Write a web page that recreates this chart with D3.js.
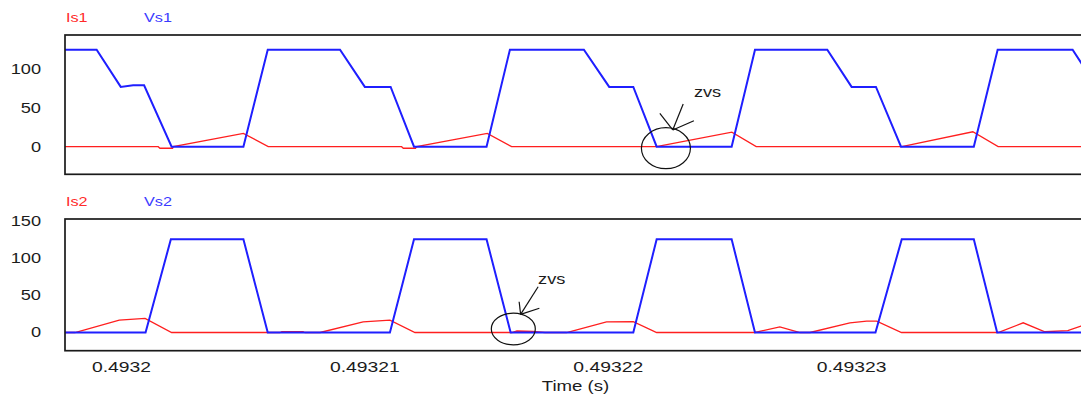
<!DOCTYPE html>
<html>
<head>
<meta charset="utf-8">
<script src="https://cdn.jsdelivr.net/npm/d3@7"></script>
<style>
  body { margin: 0; background: #fff; }
  svg { display: block; }
  text { font-family: "Liberation Sans", Arial, sans-serif; }
</style>
</head>
<body>
<svg id="canvas"></svg>
<script>
// time in seconds
let tVs1 = [0.4931977, 0.4931990, 0.49319999, 0.4932005, 0.49320095, 0.49320208, 0.49320503, 0.49320603,
  0.4932090, 0.49321002, 0.49321108, 0.49321204, 0.49321502, 0.49321598, 0.49321902, 0.49322006,
  0.49322105, 0.49322201, 0.49322509, 0.49322605, 0.49322902, 0.49323002, 0.49323102, 0.49323205,
  0.49323504, 0.49323602, 0.4932391, 0.4932398];
let vs1 = [125, 125, 77, 79, 79, 0, 0, 125, 125, 77, 77, 0, 0, 125, 125, 77, 77, 0, 0, 125, 125, 77, 77, 0, 0, 125, 125, 91];

let tIs1 = [0.4931977, 0.49320153, 0.4932016, 0.49320212, 0.49320215, 0.49320503, 0.49320605, 0.49321153,
  0.4932116, 0.4932121, 0.49321215, 0.49321505, 0.49321605, 0.493222, 0.4932251, 0.4932261,
  0.49323208, 0.493235, 0.49323604, 0.4932398];
let is1 = [0, 0, -2, -2, 0, 17.2, 0, 0, -2, -2, 0, 17.2, 0, 0, 18.8, 0, 0, 19.2, 0, 0];

let tVs2 = [0.4931977, 0.49320101, 0.49320205, 0.49320503, 0.49320603, 0.49321105, 0.49321204, 0.49321502,
  0.49321601, 0.49322105, 0.49322201, 0.49322509, 0.49322605, 0.493231, 0.49323208, 0.49323504,
  0.493236, 0.4932398];
let vs2 = [0, 0, 125, 125, 0, 0, 125, 125, 0, 0, 125, 125, 0, 0, 125, 125, 0, 0];

let tIs2 = [0.4931977, 0.49319811, 0.49319993, 0.49320099, 0.49320208, 0.49320653, 0.49320661, 0.49320748,
  0.49320756, 0.49320818, 0.49320995, 0.49321105, 0.49321208, 0.49321606, 0.49321627, 0.49321693,
  0.49321742, 0.49321831, 0.49321995, 0.49322105, 0.49322201, 0.49322605, 0.49322707, 0.4932279,
  0.49322831, 0.49322995, 0.49323064, 0.49323105, 0.49323207, 0.49323604, 0.49323707, 0.49323796,
  0.4932389, 0.49323944, 0.4932398];
let is2 = [0, 0, 16.6, 19, 0, 0, 1, 1, 0, 0, 14.3, 16.6, 0, 0, 2, 1.5, 0, 0, 14.3, 14.5, 0, 0, 7.6, 0,
  0, 13, 15.3, 15.3, 0, 0, 13, 1, 2.5, 8.5, 12];

let timeDomain = [0.4931977, 0.49323965];
let xTickValues = [0.4932, 0.49321, 0.49322, 0.49323];
let xTickLabels = ['0.4932', '0.49321', '0.49322', '0.49323'];
let yTicksTop = [0, 50, 100];
let yTicksBottom = [0, 50, 100, 150];
let legendTop = ['Is1', 'Vs1'];
let legendBottom = ['Is2', 'Vs2'];

// zvs markers: [time, value] for circle centre, arrow root, arrow tips, label
let zvsTop = { centre: [0.49322239, -2], root: [0.49322267, 21.5],
  tips: [[0.49322214, 43], [0.4932231, 55], [0.49322354, 33.5]], label: [0.49322354, 63.5] };
let zvsBottom = { centre: [0.49321612, 4.7], root: [0.49321642, 24.4],
  tips: [[0.49321714, 61.4], [0.49321636, 41.3], [0.49321719, 32.5]], label: [0.49321714, 64.4] };

let width = 1081;
let height = 398;
let left = 65;
let right = 1086;
let red = '#ff1f1f';
let blue = '#1f1fff';
let stretch = 1.3;

let svg = d3.select('#canvas').attr('width', width).attr('height', height);

let xScale = d3.scaleLinear().domain(timeDomain).range([left, right]);

let widen = (sel, k) => {
  sel.each(function () {
    let w = this.getComputedTextLength();
    d3.select(this).attr('textLength', w * k).attr('lengthAdjust', 'spacingAndGlyphs');
  });
};

let drawPanel = (p) => {
  let yScale = d3.scaleLinear().domain(p.domain).range([p.bottom, p.top]);
  let g = svg.append('g');

  g.append('clipPath').attr('id', p.id)
    .append('rect').attr('x', left).attr('y', p.top)
    .attr('width', right - left).attr('height', p.bottom - p.top);

  let plot = g.append('g').attr('clip-path', 'url(#' + p.id + ')');
  p.series.forEach((s) => {
    let pts = s.t.map((t, i) => [t, s.v[i]]);
    plot.append('path')
      .attr('d', d3.line().x((d) => xScale(d[0])).y((d) => yScale(d[1]))(pts))
      .attr('fill', 'none')
      .attr('stroke', s.color)
      .attr('stroke-width', s.w)
      .attr('stroke-linejoin', 'miter');
  });

  g.append('rect')
    .attr('x', left).attr('y', p.top)
    .attr('width', right - left).attr('height', p.bottom - p.top)
    .attr('fill', 'none').attr('stroke', '#1a1a1a').attr('stroke-width', 1.7);

  let yAxis = d3.axisLeft(yScale).tickValues(p.ticks).tickSize(0).tickPadding(24);
  let ya = g.append('g').attr('transform', 'translate(' + left + ',0)').call(yAxis);
  ya.select('.domain').remove();
  ya.selectAll('text').attr('font-size', 14).attr('fill', '#1c1c1c')
    .attr('font-family', '"Liberation Sans", Arial, sans-serif');
  widen(ya.selectAll('text'), stretch);

  // legend names above the panel
  g.selectAll('.legend')
    .data(p.legend)
    .enter()
    .append('text')
    .attr('x', (d, i) => left + 1 + i * 78)
    .attr('y', p.top - 13)
    .attr('font-size', 13.5)
    .attr('fill', (d, i) => i === 0 ? '#ff2a2a' : '#3a3aff')
    .text((d) => d);
  widen(g.selectAll('text:not(.tick text)').filter(function () { return !this.closest('.tick'); }), 1.2);

  // zvs mark
  let z = p.zvs;
  let cx = xScale(z.centre[0]), cy = yScale(z.centre[1]);
  g.append('ellipse').attr('cx', cx).attr('cy', cy).attr('rx', p.rx).attr('ry', p.ry)
    .attr('fill', 'none').attr('stroke', '#111').attr('stroke-width', 1.2);
  z.tips.forEach((tip) => {
    g.append('line')
      .attr('x1', xScale(z.root[0])).attr('y1', yScale(z.root[1]))
      .attr('x2', xScale(tip[0])).attr('y2', yScale(tip[1]))
      .attr('stroke', '#111').attr('stroke-width', 1.2);
  });
  let zt = g.append('text')
    .attr('x', xScale(z.label[0])).attr('y', yScale(z.label[1]))
    .attr('font-size', 14).attr('fill', '#1c1c1c')
    .text('zvs');
  widen(zt, 1.3);

  return yScale;
};

drawPanel({
  id: 'clipTop', top: 35, bottom: 174.3, domain: [-35.6, 143.9], ticks: yTicksTop,
  legend: legendTop, zvs: zvsTop, rx: 24.5, ry: 20.5,
  series: [{ t: tIs1, v: is1, color: red, w: 1.3 }, { t: tVs1, v: vs1, color: blue, w: 2 }]
});

drawPanel({
  id: 'clipBottom', top: 219, bottom: 350.7, domain: [-24.4, 152.2], ticks: yTicksBottom,
  legend: legendBottom, zvs: zvsBottom, rx: 22, ry: 15.8,
  series: [{ t: tIs2, v: is2, color: red, w: 1.3 }, { t: tVs2, v: vs2, color: blue, w: 2 }]
});

let xAxis = d3.axisBottom(xScale).tickValues(xTickValues)
  .tickFormat((d, i) => xTickLabels[i]).tickSize(0).tickPadding(11);
let xa = svg.append('g').attr('transform', 'translate(0,350.7)').call(xAxis);
xa.select('.domain').remove();
xa.selectAll('text').attr('font-size', 14).attr('fill', '#1c1c1c')
  .attr('font-family', '"Liberation Sans", Arial, sans-serif');
widen(xa.selectAll('text'), 1.38);

let xt = svg.append('text')
  .attr('x', (left + right) / 2)
  .attr('y', 391)
  .attr('text-anchor', 'middle')
  .attr('font-size', 14)
  .attr('fill', '#1c1c1c')
  .text('Time (s)');
widen(xt, 1.33);
</script>
</body>
</html>
